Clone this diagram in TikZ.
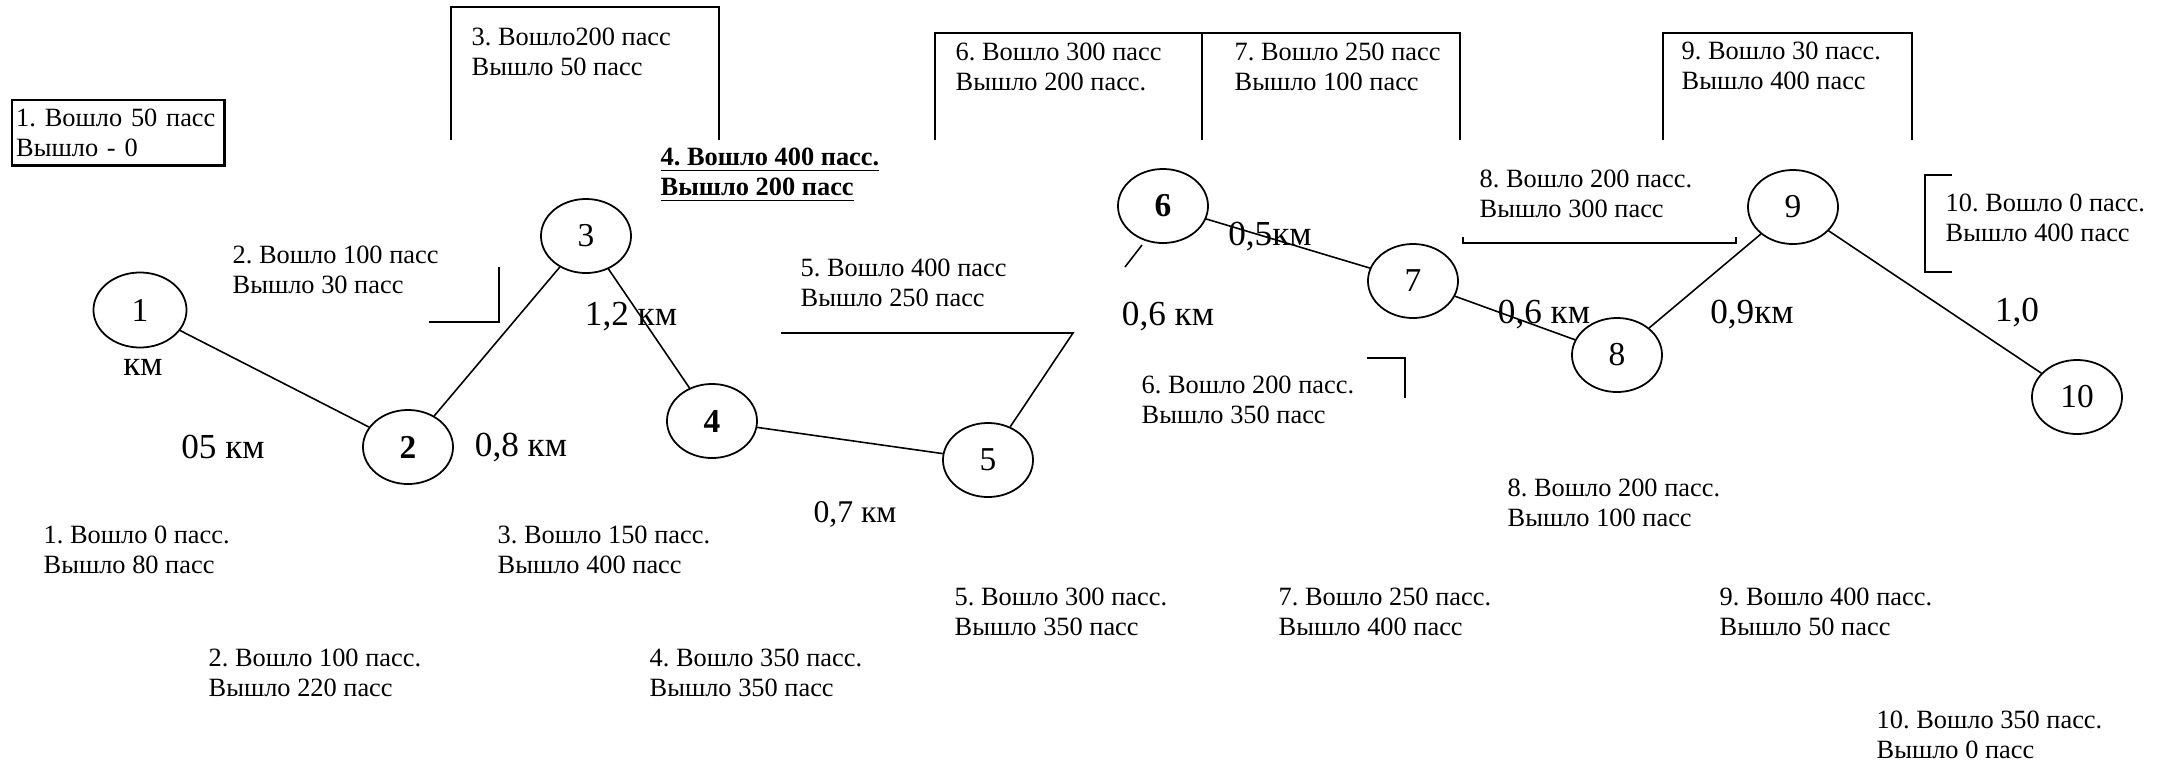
\documentclass[tikz,border=0pt]{standalone}
\usepackage{fontspec}
\setmainfont{Liberation Serif}
\frenchspacing
\usetikzlibrary{shapes.geometric}
\begin{document}
\begin{tikzpicture}[x=0.01cm,y=-0.01cm,
    stopnode/.style={ellipse,draw=black,line width=.5pt,minimum width=.9cm,minimum height=.74cm,inner sep=0pt,font=\fontsize{9.5pt}{11pt}\selectfont},
    link/.style={draw=black,line width=.45pt},
    rim/.style={draw=black,line width=.7pt},
    note/.style={anchor=west,align=left,inner sep=0pt,font=\fontsize{7.5pt}{8.6pt}\selectfont},
    dist/.style={inner sep=0pt,font=\fontsize{10pt}{12pt}\selectfont}]
    \useasboundingbox (0,0) rectangle (2168,763);

    % stops
    \node[stopnode,minimum width=.93cm,minimum height=.75cm] (n1) at (140,310) {1};
    \node[stopnode,font=\fontsize{9.5pt}{11pt}\selectfont\bfseries] (n2) at (408,447) {2};
    \node[stopnode] (n3) at (586,236) {3};
    \node[stopnode,font=\fontsize{9.5pt}{11pt}\selectfont\bfseries] (n4) at (712,421) {4};
    \node[stopnode] (n5) at (988,460) {5};
    \node[stopnode,font=\fontsize{9.5pt}{11pt}\selectfont\bfseries] (n6) at (1163,206) {6};
    \node[stopnode] (n7) at (1413,281) {7};
    \node[stopnode] (n8) at (1617,355) {8};
    \node[stopnode] (n9) at (1793,207) {9};
    \node[stopnode] (n10) at (2077,397) {10};

    \draw[link] (n1) -- (n2) -- (n3) -- (n4) -- (n5);
    \draw[link] (n6) -- (n7) -- (n8) -- (n9) -- (n10);

    % distances
    \node[dist] (d1) at (143,367) {км};
    \node[dist] (d12) at (223,447) {05 км};
    \node[dist] (d23) at (521,447) {0,8 км};
    \node[dist] (d34) at (631,317) {1,2 км};
    \node[dist,font=\fontsize{9pt}{11pt}\selectfont] (d45) at (855,514) {0,7 км};
    \node[dist] (d56) at (1168,317) {0,6 км};
    \node[dist] (d67) at (1270,237) {0,5км};
    \node[dist] (d78) at (1544,315) {0,6 км};
    \node[dist] (d89) at (1752,315) {0,9км};
    \node[dist] (d910) at (2017,313) {1,0};

    % upper notes
    \node[note,draw,line width=.7pt,anchor=north west,minimum width=2.12cm,minimum height=.65cm,
          inner xsep=.04cm,text width=2.04cm] (up1) at (11,99) {1. Вошло 50 пасс\\Вышло - 0};
    \node[note] (up2) at (232,270) {2. Вошло 100 пасс\\Вышло 30 пасс};
    \node[note] (up3) at (471,52) {3. Вошло200 пасс\\Вышло 50 пасс};
    \node[note,font=\fontsize{7.5pt}{8.6pt}\selectfont\bfseries] (up4) at (660,175)
          {\underline{4. Вошло 400 пасс.}\\\underline{Вышло 200 пасс}};
    \node[note] (up5) at (800,283) {5. Вошло 400 пасс\\Вышло 250 пасс};
    \node[note] (up6) at (955,67) {6. Вошло 300 пасс\\Вышло 200 пасс.};
    \node[note] (up7) at (1234,67) {7. Вошло 250 пасс\\Вышло 100 пасс};
    \node[note] (up8) at (1479,194) {8. Вошло 200 пасс.\\Вышло 300 пасс};
    \node[note] (up9) at (1681,66) {9. Вошло 30 пасс.\\Вышло 400 пасс};
    \node[note] (up10) at (1945,218) {10. Вошло 0 пасс.\\Вышло 400 пасс};

    % lower notes
    \node[note] (lo1) at (43,550) {1. Вошло 0 пасс.\\Вышло 80 пасс};
    \node[note] (lo2) at (208,673) {2. Вошло 100 пасс.\\Вышло 220 пасс};
    \node[note] (lo3) at (497,550) {3. Вошло 150 пасс.\\Вышло 400 пасс};
    \node[note] (lo4) at (649,673) {4. Вошло 350 пасс.\\Вышло 350 пасс};
    \node[note] (lo5) at (954,612) {5. Вошло 300 пасс.\\Вышло 350 пасс};
    \node[note] (lo6) at (1141,400) {6. Вошло 200 пасс.\\Вышло 350 пасс};
    \node[note] (lo7) at (1278,612) {7. Вошло 250 пасс.\\Вышло 400 пасс};
    \node[note] (lo8) at (1507,503) {8. Вошло 200 пасс.\\Вышло 100 пасс};
    \node[note] (lo9) at (1719,612) {9. Вошло 400 пасс.\\Вышло 50 пасс};
    \node[note] (lo10) at (1876,735) {10. Вошло 350 пасс.\\Вышло 0 пасс};

    % frames and brackets
    \draw[rim] (451,140) -- (451,7) -- (719,7) -- (719,140);
    \draw[rim] (935,140) -- (935,33) -- (1460,33) -- (1460,140);
    \draw[rim] (1202,33) -- (1202,140);
    \draw[rim] (1663,140) -- (1663,33) -- (1912,33) -- (1912,140);
    \draw[link] (499,267) -- (499,322) -- (429,322);
    \draw[rim] (1367,358) -- (1405,358) -- (1405,398);
    \draw[rim] (1463,237) -- (1463,243) -- (1736,243) -- (1736,237);
    \draw[rim] (1952,175) -- (1925,175) -- (1925,272) -- (1952,272);
    \draw[link] (1142,245) -- (1125,267);

    % callout of stop 5
    \coordinate (c5a) at (781,333);
    \coordinate (c5b) at (1073,333);
    \draw[link] (c5a) -- (c5b) -- (n5);
\end{tikzpicture}
\end{document}
